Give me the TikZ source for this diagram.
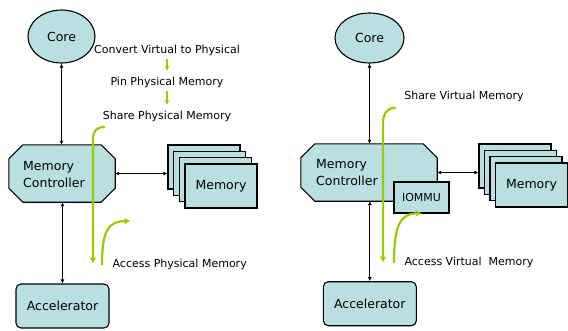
\documentclass[tikz,border=0pt]{standalone}
\usepackage{fontspec}
\setmainfont{DejaVu Sans}
\usetikzlibrary{shapes.geometric,arrows.meta,calc}
\pgfdeclarelayer{background}
\pgfsetlayers{background,main}

\definecolor{boxfill}{HTML}{BADFE1}
\definecolor{flow}{HTML}{99CC00}

\tikzset{
  part/.style={draw=black, line width=1.1pt, fill=boxfill,
    font=\fontsize{12.5}{17}\selectfont},
  corenode/.style={part, ellipse, inner sep=0pt},
  roundbox/.style={part, rectangle, rounded corners=5pt, inner sep=0pt},
  membox/.style={part, rectangle, minimum width=72pt, minimum height=44pt, inner sep=0pt},
  frame/.style={rectangle, inner sep=0pt},
  octagon/.style={draw=black, line width=1.1pt, fill=boxfill},
  mctext/.style={font=\fontsize{12.5}{17}\selectfont, align=left, anchor=west, inner sep=0pt},
  note/.style={font=\fontsize{11}{13}\selectfont, inner sep=0pt},
  link/.style={line width=1pt, {Latex[length=4pt,width=4pt]}-{Latex[length=4pt,width=4pt]}},
  flowline/.style={draw=flow, line width=2.2pt, -{Stealth[length=6pt,width=6.5pt]}},
  stepflow/.style={draw=flow, line width=1.6pt, -{Stealth[length=4.5pt,width=5pt]}},
}

% chamfered outline around a frame node
\newcommand\chamferbox[2]{%
  \begin{pgfonlayer}{background}
    \draw[octagon]
      ($(#1.north west)+(#2,0)$) -- ($(#1.north east)+(-#2,0)$) --
      ($(#1.north east)+(0,#2)$) -- ($(#1.south east)+(0,-#2)$) --
      ($(#1.south east)+(-#2,0)$) -- ($(#1.south west)+(#2,0)$) --
      ($(#1.south west)+(0,-#2)$) -- ($(#1.north west)+(0,#2)$) -- cycle;
  \end{pgfonlayer}}

\begin{document}
\begin{tikzpicture}[x=1pt,y=-1pt]
\useasboundingbox (0,0) rectangle (568,330);

% ---------------- left: physical memory sharing ----------------
\node[corenode, minimum width=67pt, minimum height=53pt] (coreL) at (61.5,36.5) {Core};
\node[frame, minimum width=106pt, minimum height=57pt] (mcL) at (62,173.5) {};
\chamferbox{mcL}{14}
\node[mctext] (mcLtext) at (23,174.5) {Memory\\Controller};
\node[roundbox, minimum width=93pt, minimum height=44pt] (accL) at (62.5,306) {Accelerator};

\node[membox] (memL4) at (204,167) {};
\node[membox] (memL3) at (209.7,173.3) {};
\node[membox] (memL2) at (215.3,179.7) {};
\node[membox] (memL1) at (221,186) {Memory};

\draw[link] (coreL.south) -- (coreL.south |- mcL.north);
\draw[link] (accL.north |- mcL.south) -- (accL.north);
\draw[link] (mcL.east) -- (mcL.east -| memL4.west);

\node[note] (conv) at (167,50) {Convert Virtual to Physical};
\node[note] (pin) at (167,82) {Pin Physical Memory};
\node[note] (shareP) at (167,116) {Share Physical Memory};
\node[note] (accP) at (179.7,264) {Access Physical Memory};

\draw[stepflow] ($(conv.south)+(0,3)$) -- ($(pin.north)+(0,-6)$);
\draw[stepflow] ($(pin.south)+(0,3)$) -- ($(shareP.north)+(0,-6)$);

\coordinate (gLa) at (105,127);
\coordinate (gLb) at (93,263);
\draw[flowline] (gLa) .. controls (96,127) and (93,131) .. (93,140) -- (gLb);
\coordinate (gLc) at (102,265);
\coordinate (gLd) at (130,221);
\draw[flowline] (gLc) .. controls (102,229) and (109,221) .. (gLd);

% ---------------- right: virtual memory sharing ----------------
\node[corenode, minimum width=69pt, minimum height=50pt] (coreR) at (369.5,38) {Core};
\node[frame, minimum width=136pt, minimum height=57pt] (mcR) at (369,172.5) {};
\chamferbox{mcR}{14}
\node[mctext] (mcRtext) at (316,173) {Memory\\Controller};
\node[part, rectangle, minimum width=55pt, minimum height=31pt, inner sep=0pt,
      font=\fontsize{11}{13}\selectfont] (iommu) at (421.5,197.5) {IOMMU};
\node[roundbox, minimum width=93pt, minimum height=44pt] (accR) at (369.8,303.7) {Accelerator};

\node[membox] (memR4) at (515,166) {};
\node[membox] (memR3) at (520.5,172.3) {};
\node[membox] (memR2) at (526,178.7) {};
\node[membox] (memR1) at (531.5,185) {Memory};

\draw[link] (coreR.south) -- (coreR.south |- mcR.north);
\draw[link] (accR.north |- mcR.south) -- (accR.north);
\draw[link] (mcR.east) -- (mcR.east -| memR4.west);

\node[note] (shareV) at (464,96) {Share Virtual Memory};
\node[note] (accV) at (469,262.7) {Access Virtual\ \ Memory};

\coordinate (gRa) at (395.7,107.7);
\coordinate (gRb) at (383,262);
\draw[flowline] (gRa) .. controls (386,108) and (383,114) .. (383,125) -- (gRb);
\coordinate (gRc) at (394,263);
\draw[flowline] (gRc) .. controls (394,226) and (400,213) .. (iommu.south);
\end{tikzpicture}
\end{document}
